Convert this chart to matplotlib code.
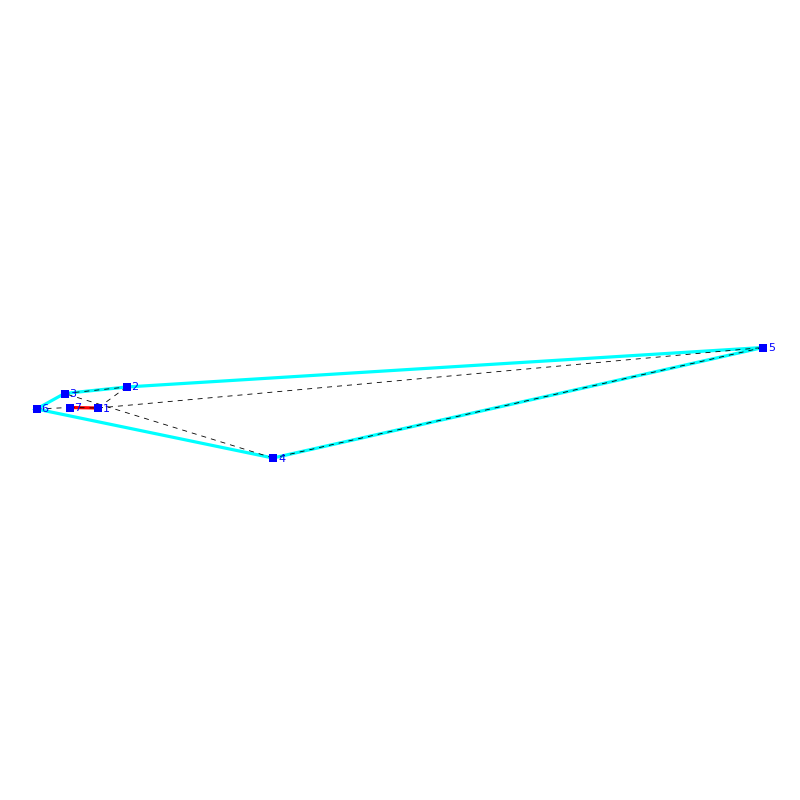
import matplotlib
matplotlib.use("Agg")
import matplotlib.pyplot as plt

node_ids = [1, 2, 3, 4, 5, 6, 7]
node_x = [98.0, 126.5, 64.5, 273.0, 763.0, 36.5, 69.5]
node_y = [408.0, 387.0, 393.5, 458.0, 347.5, 409.0, 407.5]
hull_order = [3, 2, 5, 4, 6, 3]
red_edges = [(7, 1)]
dashed_edges = [(6, 7), (7, 1), (1, 5), (5, 4), (4, 3), (3, 2), (2, 1)]

fig = plt.figure(figsize=(8, 8), dpi=100)
ax = fig.add_axes([0, 0, 1, 1])
ax.set_xlim(0, 800)
ax.set_ylim(800, 0)
ax.axis("off")

ax.plot([node_x[i - 1] for i in hull_order], [node_y[i - 1] for i in hull_order],
        color="#00ffff", lw=2.3, zorder=1, solid_joinstyle="miter")
for a, b in red_edges:
    ax.plot([node_x[a - 1], node_x[b - 1]], [node_y[a - 1], node_y[b - 1]],
            color="#ff0000", lw=2.3, zorder=2)
for a, b in dashed_edges:
    ax.plot([node_x[a - 1], node_x[b - 1]], [node_y[a - 1], node_y[b - 1]],
            color="black", lw=0.6, dashes=(6, 6), zorder=3)
ax.scatter(node_x, node_y, marker="s", s=26, color="#0000ff", linewidths=0, zorder=4)
for n, x, y in zip(node_ids, node_x, node_y):
    ax.text(x + 5, y + 0.5, str(n), color="#0000ff", fontsize=8, va="center", ha="left",
            family="DejaVu Sans", zorder=5)

fig.savefig("out.png", dpi=100, facecolor="white")
